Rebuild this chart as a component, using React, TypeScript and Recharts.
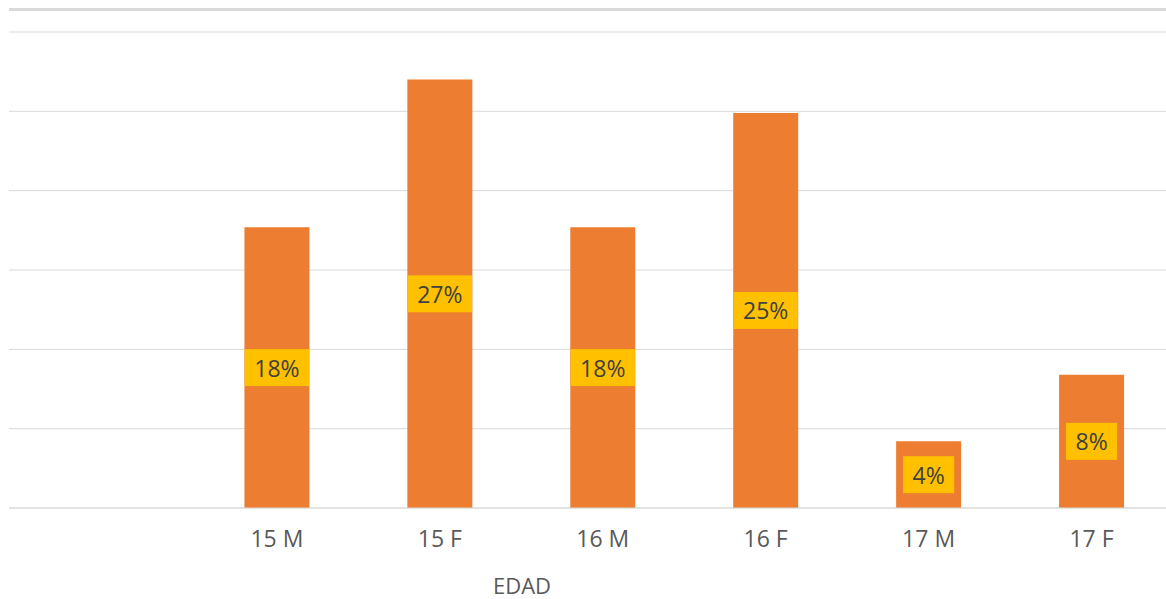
import React from "react";
import {
  Bar,
  BarChart,
  CartesianGrid,
  LabelList,
  XAxis,
  YAxis,
} from "recharts";

// categories (first slot is empty in the original chart)
const categories = ["", "15 M", "15 F", "16 M", "16 F", "17 M", "17 F"];
const shares = [null, 17.7, 27.0, 17.7, 24.9, 4.2, 8.4];
const yTicks = [0, 5, 10, 15, 20, 25, 30];

const FONT = "'Open Sans', sans-serif";

const chartData = categories.map((name, i) => ({
  name,
  value: shares[i],
}));

let ctx: CanvasRenderingContext2D | null = null;
function textWidth(s: string, font: string) {
  if (!ctx) ctx = document.createElement("canvas").getContext("2d");
  if (!ctx) return s.length * 12;
  ctx.font = font;
  return ctx.measureText(s).width;
}

// yellow data label box centred in the bar
const PercentLabel = (props: any) => {
  const { x, y, width, height, value } = props;
  if (value == null) return null;
  const text = `${Math.round(value)}%`;
  const w = textWidth(text, `23px 'Open Sans'`) + 19;
  const h = 37;
  const cx = x + width / 2;
  const cy = y + height / 2;
  return (
    <g>
      <rect x={cx - w / 2} y={cy - h / 2} width={w} height={h} fill="#FFC000" />
      <text
        x={cx}
        y={cy}
        textAnchor="middle"
        dominantBaseline="central"
        fontFamily={FONT}
        fontSize={23}
        fill="#404040"
      >
        {text}
      </text>
    </g>
  );
};

export default function App() {
  return (
    <div
      style={{
        position: "absolute",
        top: 0,
        left: 0,
        width: 1166,
        height: 599,
        overflow: "hidden",
        background: "#fff",
      }}
    >
      <div
        style={{
          position: "absolute",
          top: 8,
          left: 9,
          width: 1157,
          height: 3,
          background: "#d9d9d9",
        }}
      />
      <BarChart
        width={1173}
        height={599}
        data={chartData}
        margin={{ top: 32, right: 0, bottom: 31, left: 9 }}
        style={{ position: "absolute", top: 0, left: 0 }}
      >
        <CartesianGrid vertical={false} stroke="#d9d9d9" />
        <XAxis
          dataKey="name"
          height={60}
          padding={{ left: 23.5, right: 0 }}
          tickLine={false}
          tickSize={0}
          tickMargin={23}
          axisLine={{ stroke: "#d9d9d9" }}
          tick={{ fill: "#595959", fontSize: 23, fontFamily: FONT }}
          interval={0}
          label={{
            content: (p: any) => {
              const vb = p.viewBox;
              return (
                <text
                  x={vb.x + vb.width / 2 - 69}
                  y={vb.y + 86}
                  textAnchor="middle"
                  fontFamily={FONT}
                  fontSize={22}
                  fill="#595959"
                >
                  EDAD
                </text>
              );
            },
          }}
        />
        <YAxis hide domain={[0, 30]} ticks={yTicks} />
        <Bar
          dataKey="value"
          fill="#ED7D31"
          barSize={65}
          isAnimationActive={false}
        >
          <LabelList dataKey="value" content={PercentLabel} />
        </Bar>
      </BarChart>
    </div>
  );
}
